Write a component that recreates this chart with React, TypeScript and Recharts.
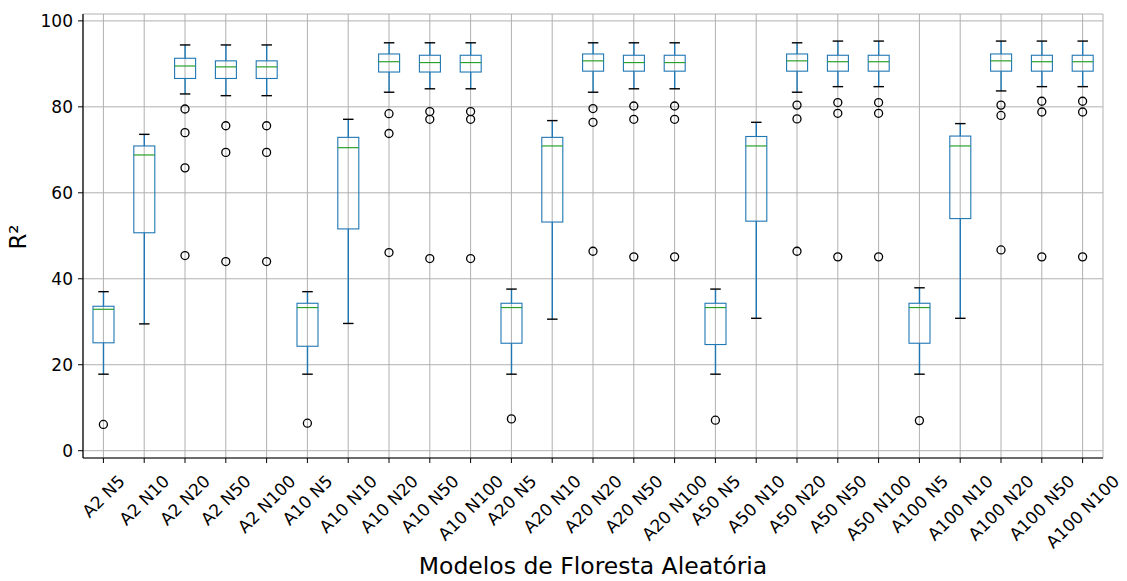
import { Bar, CartesianGrid, ComposedChart, Line, XAxis, YAxis } from 'recharts';

const models = [
  'A2 N5', 'A2 N10', 'A2 N20', 'A2 N50', 'A2 N100',
  'A10 N5', 'A10 N10', 'A10 N20', 'A10 N50', 'A10 N100',
  'A20 N5', 'A20 N10', 'A20 N20', 'A20 N50', 'A20 N100',
  'A50 N5', 'A50 N10', 'A50 N20', 'A50 N50', 'A50 N100',
  'A100 N5', 'A100 N10', 'A100 N20', 'A100 N50', 'A100 N100',
];

const whiskerLow = [
  17.8, 29.5, 83.0, 82.6, 82.6,
  17.8, 29.6, 83.4, 84.2, 84.2,
  17.8, 30.6, 83.4, 84.2, 84.2,
  17.8, 30.8, 83.4, 84.7, 84.7,
  17.8, 30.8, 83.7, 84.7, 84.7,
];
const q1 = [
  25.1, 50.7, 86.6, 86.6, 86.6,
  24.3, 51.6, 88.1, 88.1, 88.1,
  25.0, 53.2, 88.3, 88.3, 88.3,
  24.7, 53.4, 88.3, 88.3, 88.3,
  25.0, 54.0, 88.3, 88.3, 88.3,
];
const median = [
  32.9, 68.8, 89.5, 89.3, 89.3,
  33.3, 70.5, 90.5, 90.3, 90.3,
  33.3, 70.9, 90.7, 90.3, 90.3,
  33.3, 70.9, 90.7, 90.5, 90.5,
  33.3, 70.9, 90.7, 90.5, 90.5,
];
const q3 = [
  33.6, 70.9, 91.3, 90.7, 90.7,
  34.3, 72.9, 92.3, 92.0, 92.0,
  34.3, 72.9, 92.3, 92.0, 92.0,
  34.3, 73.1, 92.3, 92.0, 92.0,
  34.3, 73.2, 92.3, 92.0, 92.0,
];
const whiskerHigh = [
  37.0, 73.6, 94.4, 94.4, 94.4,
  37.0, 77.1, 94.9, 94.9, 94.9,
  37.6, 76.8, 94.9, 94.9, 94.9,
  37.6, 76.4, 94.9, 95.3, 95.3,
  37.9, 76.1, 95.3, 95.3, 95.3,
];

// outliers (fliers), highest first; null where a model has fewer
const outlier1 = [
  6.1, null, 79.5, 75.6, 75.6,
  6.4, null, 78.4, 78.9, 78.9,
  7.4, null, 79.6, 80.2, 80.2,
  7.1, null, 80.4, 81.0, 81.0,
  7.0, null, 80.4, 81.3, 81.3,
];
const outlier2 = [
  null, null, 74.0, 69.4, 69.4,
  null, null, 73.8, 77.1, 77.1,
  null, null, 76.4, 77.1, 77.1,
  null, null, 77.2, 78.5, 78.5,
  null, null, 78.0, 78.8, 78.8,
];
const outlier3 = [
  null, null, 65.8, 44.0, 44.0,
  null, null, 46.1, 44.7, 44.7,
  null, null, 46.4, 45.1, 45.1,
  null, null, 46.4, 45.1, 45.1,
  null, null, 46.7, 45.1, 45.1,
];
const outlier4 = [
  null, null, 45.4, null, null,
  null, null, null, null, null,
  null, null, null, null, null,
  null, null, null, null, null,
  null, null, null, null, null,
];

const yTicks = [0, 20, 40, 60, 80, 100];

const data = models.map((name, i) => ({
  name,
  range: [whiskerLow[i], whiskerHigh[i]],
  lo: whiskerLow[i],
  q1: q1[i],
  med: median[i],
  q3: q3[i],
  hi: whiskerHigh[i],
  o1: outlier1[i],
  o2: outlier2[i],
  o3: outlier3[i],
  o4: outlier4[i],
}));

const FONT = '"DejaVu Sans", sans-serif';
const BLUE = '#1f77b4';
const GREEN = '#2ca02c';
const TICK_FS = 17;

let ctx: CanvasRenderingContext2D | null = null;
const textWidth = (s: string) => {
  if (!ctx) {
    ctx = document.createElement('canvas').getContext('2d');
  }
  if (!ctx) return s.length * TICK_FS * 0.6;
  ctx.font = `${TICK_FS}px "DejaVu Sans"`;
  return ctx.measureText(s).width;
};

// box + whiskers drawn inside the bar that spans [whisker low, whisker high]
const BoxShape = (props: any) => {
  const { x, y, width, height, payload } = props;
  const top = Math.min(y, y + height);
  const bottom = Math.max(y, y + height);
  const span = payload.hi - payload.lo;
  const py = (v: number) => bottom - ((v - payload.lo) / span) * (bottom - top);
  const cx = x + width / 2;
  const cap = width / 4;
  return (
    <g>
      <line x1={cx} x2={cx} y1={py(payload.hi)} y2={py(payload.q3)} stroke={BLUE} strokeWidth={1.4} />
      <line x1={cx} x2={cx} y1={py(payload.q1)} y2={py(payload.lo)} stroke={BLUE} strokeWidth={1.4} />
      <rect
        x={x}
        y={py(payload.q3)}
        width={width}
        height={py(payload.q1) - py(payload.q3)}
        fill="none"
        stroke={BLUE}
        strokeWidth={1.1}
      />
      <line x1={x} x2={x + width} y1={py(payload.med)} y2={py(payload.med)} stroke={GREEN} strokeWidth={1.2} />
      <line x1={cx - cap} x2={cx + cap} y1={py(payload.hi)} y2={py(payload.hi)} stroke="#000" strokeWidth={1.4} />
      <line x1={cx - cap} x2={cx + cap} y1={py(payload.lo)} y2={py(payload.lo)} stroke="#000" strokeWidth={1.4} />
    </g>
  );
};

const XTick = ({ x, y, payload }: any) => {
  const label = String(payload.value);
  const len = textWidth(label);
  const half = ((len + TICK_FS * 1.0) * Math.SQRT1_2) / 2;
  const cy = y + 7 + half;
  return (
    <text
      x={x}
      y={cy}
      textAnchor="middle"
      dominantBaseline="central"
      transform={`rotate(-45, ${x}, ${cy})`}
      fontSize={TICK_FS}
      fontFamily={FONT}
      fill="#000"
    >
      {label}
    </text>
  );
};

const YTitle = ({ viewBox }: any) => {
  const cx = viewBox.x + 3;
  const cy = viewBox.y + viewBox.height / 2 + 1;
  return (
    <text
      x={cx}
      y={cy}
      textAnchor="middle"
      transform={`rotate(-90, ${cx}, ${cy})`}
      fontSize={23}
      fontFamily={FONT}
      fill="#000"
    >
      R²
    </text>
  );
};

const dotStyle = { r: 4, fill: 'none', stroke: '#000', strokeWidth: 1.3 };

export default function App() {
  return (
    <div style={{ position: 'absolute', left: 0, top: 0, background: '#fff' }}>
      <ComposedChart
        width={1127}
        height={581}
        data={data}
        margin={{ top: 14, right: 24, bottom: 0, left: 23 }}
        style={{ fontFamily: FONT }}
      >
        <CartesianGrid stroke="#b0b0b0" strokeWidth={1} />
        <XAxis
          dataKey="name"
          type="category"
          height={123}
          interval={0}
          tick={<XTick />}
          tickSize={5}
          tickLine={{ stroke: '#000' }}
          axisLine={{ stroke: '#000', strokeWidth: 1.2 }}
          label={{
            value: 'Modelos de Floresta Aleatória',
            position: 'insideBottom',
            offset: 7,
            style: { fontSize: 23.5, fontFamily: FONT, fill: '#000' },
          }}
        />
        <XAxis
          xAxisId="top"
          dataKey="name"
          orientation="top"
          mirror
          height={0}
          tick={false}
          tickLine={false}
          axisLine={{ stroke: '#000', strokeWidth: 1.2 }}
        />
        <YAxis
          type="number"
          domain={[-1.7, 101.6]}
          allowDataOverflow
          ticks={yTicks}
          width={60}
          tickSize={5}
          tickMargin={5}
          tick={{ fontSize: TICK_FS, fontFamily: FONT, fill: '#000' }}
          tickLine={{ stroke: '#000' }}
          axisLine={{ stroke: '#000', strokeWidth: 1.2 }}
          label={(p: any) => <YTitle {...p} />}
        />
        <YAxis
          yAxisId="right"
          orientation="right"
          mirror
          width={0}
          domain={[-1.7, 101.6]}
          tick={false}
          tickLine={false}
          axisLine={{ stroke: '#000', strokeWidth: 1.2 }}
        />
        <Bar dataKey="range" barSize={21} shape={BoxShape} isAnimationActive={false} />
        <Line dataKey="o1" stroke="none" dot={dotStyle} activeDot={false} isAnimationActive={false} />
        <Line dataKey="o2" stroke="none" dot={dotStyle} activeDot={false} isAnimationActive={false} />
        <Line dataKey="o3" stroke="none" dot={dotStyle} activeDot={false} isAnimationActive={false} />
        <Line dataKey="o4" stroke="none" dot={dotStyle} activeDot={false} isAnimationActive={false} />
      </ComposedChart>
    </div>
  );
}
